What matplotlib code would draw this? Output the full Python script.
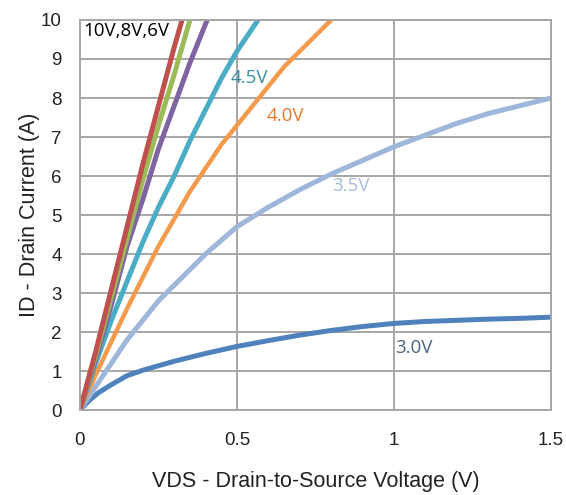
import matplotlib

matplotlib.use("Agg")
import matplotlib.pyplot as plt

# Output characteristics, ID vs VDS for several gate voltages
x_10v = [0, 0.05, 0.1, 0.15, 0.2, 0.25, 0.3, 0.325]
y_10v = [0, 1.5, 3.1, 4.7, 6.3, 7.8, 9.3, 10]

x_8v = [0, 0.05, 0.1, 0.15, 0.2, 0.25, 0.3, 0.35]
y_8v = [0, 1.4, 2.9, 4.4, 5.9, 7.3, 8.6, 10]

x_6v = [0, 0.05, 0.1, 0.15, 0.2, 0.25, 0.3, 0.35, 0.405]
y_6v = [0, 1.3, 2.7, 4.2, 5.4, 6.7, 7.8, 8.9, 10]

x_45v = [0, 0.05, 0.1, 0.15, 0.2, 0.25, 0.3, 0.35, 0.4, 0.45, 0.5, 0.567]
y_45v = [0, 1.2, 2.3, 3.3, 4.3, 5.2, 6.0, 6.9, 7.7, 8.5, 9.2, 10]

x_40v = [0, 0.05, 0.1, 0.15, 0.2, 0.25, 0.3, 0.35, 0.4, 0.45, 0.5, 0.55, 0.6,
         0.65, 0.7, 0.75, 0.8]
y_40v = [0, 0.9, 1.75, 2.6, 3.4, 4.2, 4.9, 5.6, 6.2, 6.8, 7.3, 7.8, 8.3,
         8.8, 9.2, 9.6, 10]

x_35v = [0, 0.05, 0.1, 0.15, 0.2, 0.25, 0.3, 0.4, 0.5, 0.6, 0.7, 0.8, 0.9,
         1.0, 1.1, 1.2, 1.3, 1.4, 1.5]
y_35v = [0, 0.6, 1.2, 1.8, 2.3, 2.8, 3.2, 4.0, 4.7, 5.2, 5.65, 6.05, 6.4,
         6.75, 7.05, 7.35, 7.6, 7.8, 8.0]

x_30v = [0, 0.03, 0.06, 0.1, 0.15, 0.2, 0.3, 0.4, 0.5, 0.6, 0.7, 0.8, 0.9,
         1.0, 1.1, 1.2, 1.3, 1.4, 1.5]
y_30v = [0, 0.25, 0.45, 0.65, 0.88, 1.02, 1.25, 1.45, 1.63, 1.78, 1.92, 2.04,
         2.14, 2.22, 2.27, 2.3, 2.33, 2.35, 2.38]

x_ticks = [0, 0.5, 1, 1.5]
x_tick_labels = ["0", "0.5", "1", "1.5"]
y_ticks = list(range(0, 11))


def main() -> None:
    fig = plt.figure(figsize=(5.66, 4.95), dpi=100)
    ax = fig.add_axes([0.1413, 0.1717, 0.8322, 0.7879])

    # curves, drawn from lowest to highest gate voltage
    ax.plot(x_30v, y_30v, color="#4F81BD", lw=3.6, solid_capstyle="round")
    ax.plot(x_35v, y_35v, color="#9DB6D9", lw=3.6, solid_capstyle="round")
    ax.plot(x_40v, y_40v, color="#F39A4C", lw=3.2, solid_capstyle="round")
    ax.plot(x_45v, y_45v, color="#4BACC6", lw=3.6, solid_capstyle="round")
    ax.plot(x_6v, y_6v, color="#8064A2", lw=3.6, solid_capstyle="round")
    ax.plot(x_8v, y_8v, color="#9BBB59", lw=3.6, solid_capstyle="round")
    ax.plot(x_10v, y_10v, color="#C0504D", lw=3.6, solid_capstyle="round")

    # curve labels
    lbl = dict(fontsize=13.5, family=["Open Sans", "DejaVu Sans"])
    ax.text(0.012, 9.72, "10V,8V,6V", color="black", ha="left", va="center",
            **lbl)
    ax.text(0.54, 8.5, "4.5V", color="#3C8EA4", ha="center", va="center", **lbl)
    ax.text(0.653, 7.55, "4.0V", color="#E8782A", ha="center", va="center",
            **lbl)
    ax.text(0.863, 5.75, "3.5V", color="#A5BCDC", ha="center", va="center",
            **lbl)
    ax.text(1.064, 1.6, "3.0V", color="#4A6580", ha="center", va="center",
            **lbl)

    ax.set_xlim(0, 1.5)
    ax.set_ylim(0, 10)
    ax.set_xticks(x_ticks)
    ax.set_xticklabels(x_tick_labels)
    ax.set_yticks(y_ticks)
    ax.tick_params(axis="x", length=0, labelsize=13.5, pad=16,
                   labelcolor="#222222")
    ax.tick_params(axis="y", length=0, labelsize=13.5, pad=13,
                   labelcolor="#222222")
    for t in ax.get_xticklabels() + ax.get_yticklabels():
        t.set_family("Liberation Sans")

    ax.grid(True, color="#A6A6A6", lw=1.4)
    ax.set_axisbelow(True)
    for sp in ax.spines.values():
        sp.set_color("#A6A6A6")
        sp.set_linewidth(1.4)

    ax.set_xlabel("VDS - Drain-to-Source Voltage (V)", fontsize=15.5,
                  family="Liberation Sans", color="#222222")
    ax.set_ylabel("ID - Drain Current (A)", fontsize=15.5,
                  family="Liberation Sans", color="#222222")
    ax.xaxis.set_label_coords(0.5, -0.157)
    ax.yaxis.set_label_coords(-0.085, 0.5)

    fig.savefig("out.png", dpi=100)


if __name__ == "__main__":
    main()
